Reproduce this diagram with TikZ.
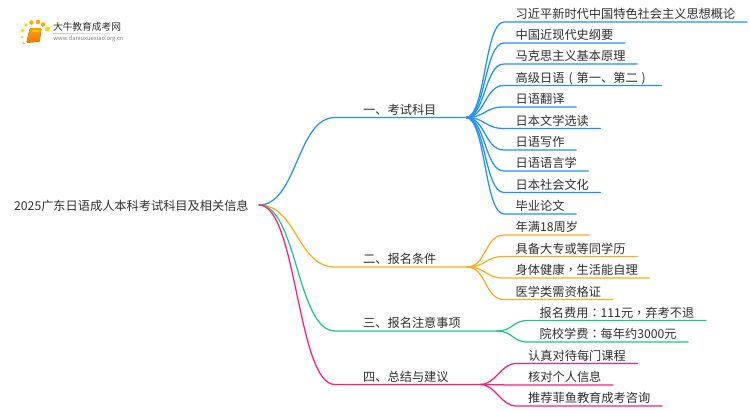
\documentclass[tikz,border=0pt]{standalone}
\usepackage{fontspec}
\setmainfont{Noto Sans CJK SC}
\newfontfamily\puncfont{Noto Sans CJK TC}
\definecolor{inkgray}{HTML}{2E2E2E}
\definecolor{blueline}{HTML}{1E90FF}
\definecolor{orangeline}{HTML}{FAAD1E}
\definecolor{greenline}{HTML}{1CC985}
\definecolor{pinkline}{HTML}{FF1C7C}
\newcommand{\pc}[1]{{\puncfont #1}}
\newcommand{\fp}[1]{\makebox[1em][c]{#1}}
\tikzset{
    every node/.style={text=inkgray,font=\fontsize{12.2}{14}\selectfont},
    branch/.style={anchor=south west,inner sep=0pt,text depth=2.2pt,yshift=1.1pt},
    leaf/.style={anchor=south west,inner xsep=11.5pt,inner ysep=1.1pt,text depth=2.2pt},
    wire/.style={line width=1.25pt,line cap=round},
    trunk/.style={wire,to path={.. controls +(38,0) and +(-38,0) .. (\tikztotarget)}},
    twig/.style={wire,to path={.. controls +(19.5,0) and +(-19.5,0) .. (\tikztotarget)}},
    sprig/.style={wire,to path={.. controls +(16,0) and +(-16,0) .. (\tikztotarget)}},
    spark/.style={circle,fill=#1,inner sep=0pt,minimum size=3.6pt},
    }
\begin{document}
\begin{tikzpicture}[x=1pt,y=-1pt]
	\useasboundingbox (0,0) rectangle (750,410);

	% logo
	\node[spark=yellow!75!orange] (d1) at (22.5,30.5) {};
	\node[spark=yellow!75!orange] (d2) at (26,25) {};
	\node[spark=orange!70!yellow,minimum size=4.5pt] (d3) at (31.5,22.5) {};
	\node[spark=orange!70!yellow,minimum size=4.5pt] (d4) at (38,22) {};
	\node[spark=orange!70!yellow,minimum size=4.5pt] (d5) at (43,24.5) {};
	\node[spark=yellow!75!orange,minimum size=5pt] (d6) at (47.5,29) {};
	\node[spark=yellow!60!orange,minimum size=2.5pt] (d7) at (22,37) {};
	\node[spark=yellow!60!orange,minimum size=2.5pt] (d8) at (23.5,43) {};
	\fill[rounded corners=1pt,top color=orange!75!yellow,bottom color=orange!95!red] (30,28) -- (41.5,28) -- (39.5,41.5) -- (26.5,42.5) -- cycle;
	\fill[orange!45!yellow] (32.5,30) -- (39.5,30) -- (39,32) -- (32,32) -- cycle;
	\draw[orange!85!black,line width=.6pt] (27,42.4) -- (39.5,41.5);
	\node[font=\fontsize{9.7}{11}\selectfont,inner sep=0pt] (logoname) at (87,27) {大牛教育成考网};
	\node[font=\fontsize{5.8}{7}\selectfont,text=gray,inner sep=0pt] (logourl) at (88.5,39) {www.daniuxuexiao.org.cn};
	\fill[left color=gray!45,right color=white] (53,33) rectangle (133,33.6);

	% root and hubs
	\node[anchor=west,inner sep=0pt] (root) at (14,205.5) {2025广东日语成人本科考试科目及相关信息};
	\coordinate (rootout) at (259,205);
	\coordinate (kneea) at (335,117.5);
	\coordinate (hubb) at (467,267);
	\coordinate (kneeb) at (335,267);
	\coordinate (hubc) at (497,331);
	\coordinate (kneec) at (335,331);
	\coordinate (hubd) at (480,384.5);
	\coordinate (kneed) at (335,384.5);
	\coordinate (huba) at (466,117.5);

	\node[branch] (a) at (363,117.5) {一、考试科目};
	\node[branch] (b) at (363,267) {二、报名条件};
	\node[branch] (c) at (363,331) {三、报名注意事项};
	\node[branch] (d) at (363,384.5) {四、总结与建议};

	\node[leaf] (a1) at (504,22) {习近平新时代中国特色社会主义思想概论};
	\node[leaf] (a2) at (504,43) {中国近现代史纲要};
	\node[leaf] (a3) at (504,64) {马克思主义基本原理};
	\node[leaf] (a4) at (504,85.5) {高级日语\fp{(}第一、第二\fp{)}};
	\node[leaf] (a5) at (504,107) {日语翻译};
	\node[leaf] (a6) at (504,128.5) {日本文学选读};
	\node[leaf] (a7) at (504,150) {日语写作};
	\node[leaf] (a8) at (504,171) {日语语言学};
	\node[leaf] (a9) at (504,192.5) {日本社会文化};
	\node[leaf] (a10) at (504,214) {毕业论文};

	\node[leaf] (b1) at (504,235) {年满18周岁};
	\node[leaf] (b2) at (504,256.5) {具备大专或等同学历};
	\node[leaf] (b3) at (504,278) {身体健康\pc{，}生活能自理};
	\node[leaf] (b4) at (504,299.5) {医学类需资格证};

	\node[leaf] (c1) at (528,320.5) {报名费用\pc{：}111元\pc{，}弃考不退};
	\node[leaf] (c2) at (528,342) {院校学费\pc{：}每年约3000元};

	\node[leaf] (d1x) at (516.5,363.5) {认真对待每门课程};
	\node[leaf] (d2x) at (516.5,385) {核对个人信息};
	\node[leaf] (d3x) at (516.5,406) {推荐菲鱼教育成考咨询};

	\draw[trunk,blueline] (rootout) to (kneea) -- (huba);
	\draw[twig,blueline] (huba) to (a1.south west) -- (a1.south east);
	\draw[twig,blueline] (huba) to (a2.south west) -- (a2.south east);
	\draw[twig,blueline] (huba) to (a3.south west) -- (a3.south east);
	\draw[twig,blueline] (huba) to (a4.south west) -- (a4.south east);
	\draw[twig,blueline] (huba) to (a5.south west) -- (a5.south east);
	\draw[twig,blueline] (huba) to (a6.south west) -- (a6.south east);
	\draw[twig,blueline] (huba) to (a7.south west) -- (a7.south east);
	\draw[twig,blueline] (huba) to (a8.south west) -- (a8.south east);
	\draw[twig,blueline] (huba) to (a9.south west) -- (a9.south east);
	\draw[twig,blueline] (huba) to (a10.south west) -- (a10.south east);

	\draw[trunk,orangeline] (rootout) to (kneeb) -- (hubb);
	\draw[twig,orangeline] (hubb) to (b1.south west) -- (b1.south east);
	\draw[twig,orangeline] (hubb) to (b2.south west) -- (b2.south east);
	\draw[twig,orangeline] (hubb) to (b3.south west) -- (b3.south east);
	\draw[twig,orangeline] (hubb) to (b4.south west) -- (b4.south east);

	\draw[trunk,greenline] (rootout) to (kneec) -- (hubc);
	\draw[sprig,greenline] (hubc) to (c1.south west) -- (c1.south east);
	\draw[sprig,greenline] (hubc) to (c2.south west) -- (c2.south east);

	\draw[trunk,pinkline] (rootout) to (kneed) -- (hubd);
	\draw[sprig,pinkline] (hubd) to (d1x.south west) -- (d1x.south east);
	\draw[sprig,pinkline] (hubd) to (d2x.south west) -- (d2x.south east);
	\draw[sprig,pinkline] (hubd) to (d3x.south west) -- (d3x.south east);
\end{tikzpicture}
\end{document}
